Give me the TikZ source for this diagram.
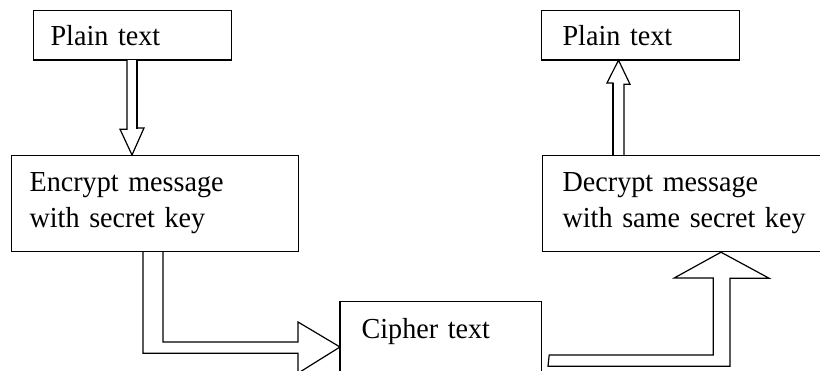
\documentclass[tikz,border=0pt]{standalone}
\usepackage{fontspec}
\setmainfont[FakeStretch=0.97]{Liberation Serif}
\usetikzlibrary{calc}
\newcommand{\diagfont}{\fontsize{29pt}{36pt}\selectfont}
\tikzset{
  boxnode/.style={draw, line width=1.2pt, inner ysep=0pt, align=left, font=\diagfont, anchor=north west},
  blockarrow/.style={draw, fill=white, line width=1.2pt, line join=miter},
  shadowline/.style={line width=2.4pt}
}
\begin{document}
\begin{tikzpicture}[x=1pt,y=-1pt]
\useasboundingbox (0,0) rectangle (820,371);
\clip (0,0) rectangle (820,371);
\fill[white] (0,0) rectangle (820,371);

% boxes
\node[boxnode, inner xsep=17pt, text width=164pt, minimum height=49pt] (p1) at (33,10) {Plain text};
\node[boxnode, inner xsep=18pt, text width=251pt, minimum height=96pt] (enc) at (11,155) {Encrypt message\\with secret key};
\node[boxnode, inner xsep=21pt, inner ysep=0pt, text width=159pt, text height=37pt, text depth=63pt] (cip) at (340,301) {Cipher text};
\node[boxnode, inner xsep=20pt, text width=260pt, minimum height=96pt] (dec) at (542,155) {Decrypt message\\with same secret key};
\node[boxnode, inner xsep=21pt, text width=156pt, minimum height=49pt] (p2) at (541,10) {Plain text};

% shadow edges
\draw[shadowline] (p1.south west) -- (p1.south east);
\draw[shadowline] (p2.south west) -- (p2.south east);
\draw[shadowline] (cip.north west) -- (cip.south west);

% arrow 1: plain text -> encrypt
\draw[blockarrow] ($(p1.south west)+(94,0)$) -- ++(0,69) -- ++(-7,0)
  -- ($(enc.north west)+(121,0)$) -- ++(12,-27) -- ++(-7,0) -- ($(p1.south west)+(104,0)$);
\draw[shadowline] ($(p1.south west)+(104,0)$) -- ++(0,69);

% arrow 2: encrypt -> cipher
\draw[blockarrow] ($(enc.south west)+(132,0)$) -- ++(0,101) -- ++(155,0) -- ++(0,20)
  -- ($(cip.north west)+(0,46)$) -- ++(-42,-25) -- ++(0,20) -- ++(-135,0) -- ($(enc.south west)+(152,0)$);

% arrow 3: cipher -> decrypt
\draw[blockarrow] ($(cip.north east)+(7,54)$) -- ++(164,0) -- ++(0,-77) -- ++(-39,0)
  -- ($(dec.south west)+(179,0)$) -- ++(48,26) -- ++(-39,0) -- ++(0,88) -- ++(-182,0) -- cycle;

% arrow 4: decrypt -> plain text
\draw[blockarrow] ($(dec.north west)+(71,0)$) -- ++(0,-72) -- ++(-6,0)
  -- ($(p2.south west)+(77.5,0)$) -- ++(11.5,24) -- ++(-6,0) -- ($(dec.north west)+(82,0)$);
\draw[shadowline] ($(dec.north west)+(71,0)$) -- ++(0,-72);
\end{tikzpicture}
\end{document}
